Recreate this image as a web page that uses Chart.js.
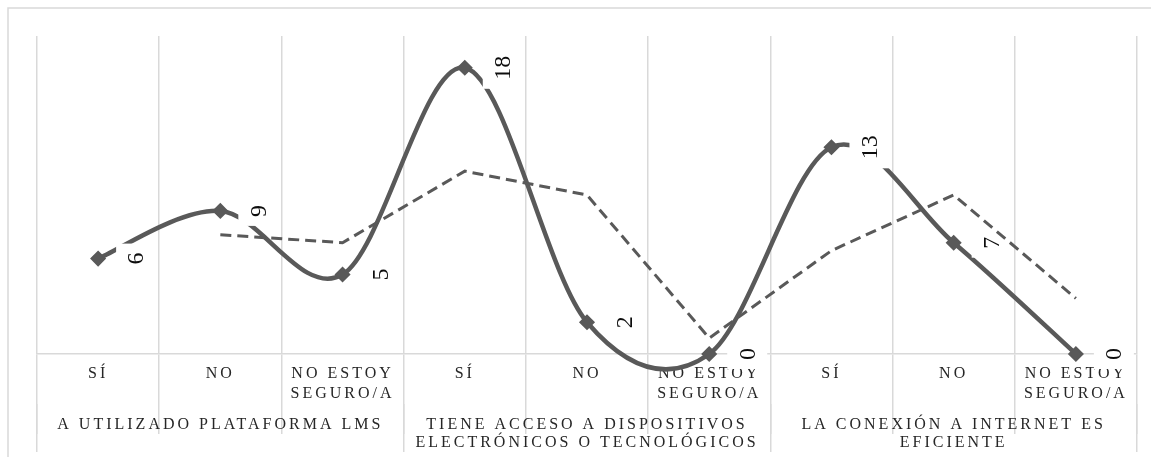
<!DOCTYPE html>
<html>
<head>
<meta charset="utf-8">
<script src="https://cdn.jsdelivr.net/npm/chart.js@4/dist/chart.umd.min.js"></script>
<style>
html,body{margin:0;padding:0;background:#ffffff;}
#wrap{position:relative;width:1151px;height:457px;}
</style>
</head>
<body>
<div id="wrap"><canvas id="c" width="1151" height="457"></canvas></div>
<script>
// ---- data ----
const categories = ['SÍ', 'NO', ['NO ESTOY', 'SEGURO/A'], 'SÍ', 'NO', ['NO ESTOY', 'SEGURO/A'], 'SÍ', 'NO', ['NO ESTOY', 'SEGURO/A']];
const groups = ['A UTILIZADO PLATAFORMA LMS', ['TIENE ACCESO A DISPOSITIVOS', 'ELECTRÓNICOS O TECNOLÓGICOS'], ['LA CONEXIÓN A INTERNET ES', 'EFICIENTE']];
const groupSize = 3;
const values = [6, 9, 5, 18, 2, 0, 13, 7, 0];
const trendValues = [null, 7.5, 7, 11.5, 10, 1, 6.5, 10, 3.5];
const yMin = 0, yMax = 20;

// group labels placed on the middle category of each group
const groupTicks = categories.map((c, i) => (i % groupSize === 1 ? groups[Math.floor(i / groupSize)] : ''));

const LINE = '#595959';
const GRID = '#d9d9d9';
const TEXT = '#262626';
const SERIF = '"Liberation Serif", "Times New Roman", "DejaVu Serif", serif';
const MAIN = 1;

const framePlugin = {
  id: 'frame',
  beforeDraw(chart) {
    const ctx = chart.ctx;
    ctx.save();
    ctx.strokeStyle = GRID;
    ctx.lineWidth = 1.5;
    ctx.strokeRect(8, 8, 1300, 600);
    ctx.restore();
    try { ctx.letterSpacing = '3px'; } catch (e) {}
  },
  beforeDatasetsDraw(chart) {
    try { chart.ctx.letterSpacing = '0px'; } catch (e) {}
  }
};

// Excel-style smoothing (Catmull-Rom, 1/6 tangents) on library-positioned points
const smoothPlugin = {
  id: 'excelSmooth',
  beforeDatasetDraw(chart, args) {
    if (args.index !== MAIN) return;
    const meta = args.meta;
    const line = meta.dataset;
    if (line.updateControlPoints) line.updateControlPoints(chart.chartArea, 'x');
    const pts = meta.data;
    const n = pts.length;
    for (let i = 0; i < n; i++) {
      const p = pts[i];
      const prev = pts[Math.max(i - 1, 0)];
      const next = pts[Math.min(i + 1, n - 1)];
      const dx = (next.x - prev.x) / 6, dy = (next.y - prev.y) / 6;
      p.cp1x = p.x - dx; p.cp1y = p.y - dy;
      p.cp2x = p.x + dx; p.cp2y = p.y + dy;
    }
    line._path = undefined;
  }
};

const labelPlugin = {
  id: 'vlabels',
  afterDatasetDraw(chart, args) {
    if (args.index !== MAIN) return;
    const ctx = chart.ctx;
    const pts = args.meta.data;
    pts.forEach((pt, i) => {
      const txt = String(values[i]);
      ctx.save();
      try { ctx.letterSpacing = '0px'; } catch (e) {}
      ctx.font = '24px ' + SERIF;
      const tw = ctx.measureText(txt).width;
      const cx = pt.x + 38, cy = pt.y;
      const bw = 40, bh = tw + 18;
      ctx.fillStyle = '#ffffff';
      ctx.fillRect(cx - bw / 2, cy - bh / 2, bw, bh);
      ctx.translate(cx, cy);
      ctx.rotate(-Math.PI / 2);
      ctx.textAlign = 'center';
      ctx.textBaseline = 'middle';
      ctx.fillStyle = '#0d0d0d';
      ctx.fillText(txt, 0, 1);
      ctx.restore();
    });
  }
};

new Chart(document.getElementById('c'), {
  type: 'line',
  data: {
    labels: categories,
    datasets: [
      {
        label: 'Tendencia',
        data: trendValues,
        borderColor: LINE,
        borderWidth: 3,
        borderDash: [11, 6],
        pointRadius: 0,
        tension: 0,
        fill: false,
        clip: false
      },
      {
        label: 'Respuestas',
        data: values,
        borderColor: LINE,
        borderWidth: 4.5,
        tension: 0.4,
        pointStyle: 'rectRot',
        pointRadius: 7,
        pointBorderWidth: 1.5,
        pointBackgroundColor: LINE,
        pointBorderColor: LINE,
        fill: false,
        clip: false
      }
    ]
  },
  options: {
    responsive: false,
    animation: false,
    events: [],
    layout: { padding: { left: 37, right: 14, top: 36, bottom: 3 } },
    plugins: { legend: { display: false }, tooltip: { enabled: false } },
    scales: {
      y: { display: false, min: yMin, max: yMax },
      x: {
        type: 'category',
        position: 'bottom',
        offset: true,
        grid: { display: true, offset: true, color: GRID, lineWidth: 1.5, drawOnChartArea: true, drawTicks: true, tickLength: 80, tickColor: GRID },
        border: { display: true, color: GRID, width: 1.5 },
        ticks: { autoSkip: false, maxRotation: 0, minRotation: 0, padding: -71, color: TEXT, font: { family: SERIF, size: 16, lineHeight: 1.3 } },
        afterFit(scale) { scale.height = 50; }
      },
      x2: {
        type: 'category',
        position: 'bottom',
        labels: groupTicks,
        offset: true,
        grid: {
          display: true, offset: true, drawOnChartArea: false, drawTicks: true, tickLength: 48, lineWidth: 1.5,
          color: (ctx) => (ctx.index === undefined || ctx.index % groupSize === 0 ? GRID : 'rgba(0,0,0,0)'),
          tickColor: (ctx) => (ctx.index === undefined || ctx.index % groupSize === 0 ? GRID : 'rgba(0,0,0,0)')
        },
        border: { display: false },
        ticks: { autoSkip: false, maxRotation: 0, minRotation: 0, padding: -36, color: TEXT, font: { family: SERIF, size: 16, lineHeight: 1.125 } },
        afterFit(scale) { scale.height = 50; }
      }
    }
  },
  plugins: [framePlugin, smoothPlugin, labelPlugin]
});
</script>
</body>
</html>
